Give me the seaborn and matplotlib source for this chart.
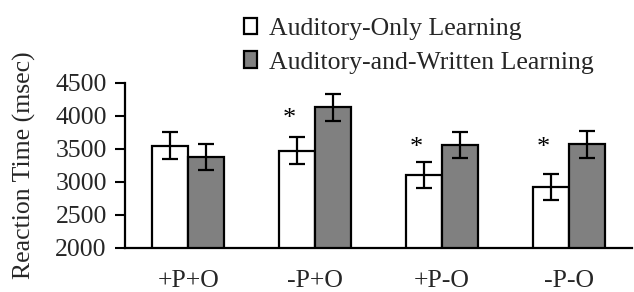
import matplotlib
matplotlib.use("Agg")
import matplotlib.pyplot as plt
import seaborn as sns
import pandas as pd
from matplotlib.patches import Patch

categories = ["+P+O", "-P+O", "+P-O", "-P-O"]
series_names = ["Auditory-Only Learning", "Auditory-and-Written Learning"]
auditory_only = [3545, 3470, 3100, 2920]
auditory_written = [3370, 4125, 3555, 3565]
err_only = [200, 200, 195, 195]
err_written = [200, 200, 200, 205]
star_flags = [False, True, True, True]
star_levels = [None, 4060, 3610, 3610]
yticks = [2000, 2500, 3000, 3500, 4000, 4500]
ylabel = "Reaction Time (msec)"

sns.set_theme(style="white")
plt.rcParams["font.family"] = ["Liberation Serif", "DejaVu Serif"]

df = pd.DataFrame({
    "cat": categories * 2,
    "val": auditory_only + auditory_written,
    "series": [series_names[0]] * 4 + [series_names[1]] * 4,
})

FS = 18.5
fig = plt.figure(figsize=(6.34, 2.92), dpi=100)
ax = fig.add_axes([0.197, 0.152, 0.8, 0.565])
colors = ["white", "#808080"]
sns.barplot(data=df, x="cat", y="val", hue="series", palette=colors,
            width=0.57, edgecolor="black", linewidth=1.6, ax=ax,
            legend=False, errorbar=None, order=categories, hue_order=series_names)

bar_conts = list(ax.containers)

# error bars
errs = [err_only, err_written]
vals = [auditory_only, auditory_written]
for si, cont in enumerate(bar_conts):
    xs = [p.get_x() + p.get_width() / 2 for p in cont.patches]
    ax.errorbar(xs, vals[si], yerr=errs[si], fmt="none", ecolor="black",
                elinewidth=1.6, capsize=5.5, capthick=1.6, zorder=5)

# significance stars above the auditory-only bars
white_cont = bar_conts[0]
for i, flag in enumerate(star_flags):
    if flag:
        p = white_cont.patches[i]
        ax.annotate("*", xy=(p.get_x() + p.get_width() / 2 - 0.06, star_levels[i]),
                    xytext=(0, -5), textcoords="offset points",
                    ha="center", va="center", fontsize=19, color="black")

ax.set_ylim(2000, 4500)
ax.set_xlim(-0.5, 3.5)
ax.set_yticks(yticks)
ax.set_yticklabels([str(t) for t in yticks], fontsize=FS)
ax.set_xticks(range(len(categories)))
ax.set_xticklabels(categories, fontsize=FS)
ax.set_xticks([-0.5, 0.5, 1.5, 2.5, 3.5], minor=True)
ax.tick_params(axis="x", which="major", length=0, pad=16)
ax.tick_params(axis="x", which="minor", length=7, width=1.5, direction="out", color="black")
ax.tick_params(axis="y", length=7, width=1.5, direction="out", color="black", pad=6, left=True)
ax.set_xlabel("")
ax.set_ylabel(ylabel, fontsize=FS)
ax.yaxis.set_label_coords(-0.175, 0.5)
for s in ["top", "right"]:
    ax.spines[s].set_visible(False)
for s in ["left", "bottom"]:
    ax.spines[s].set_color("black")
    ax.spines[s].set_linewidth(1.6)

handles = [Patch(facecolor=c, edgecolor="black", linewidth=1.6) for c in colors]
fig.legend(handles, series_names, loc="upper left", bbox_to_anchor=(0.352, 1.01),
           frameon=False, fontsize=FS, handlelength=0.5, handleheight=0.6,
           handletextpad=0.5, labelspacing=0.45, borderpad=0.3)

fig.savefig("out.png", dpi=100)
